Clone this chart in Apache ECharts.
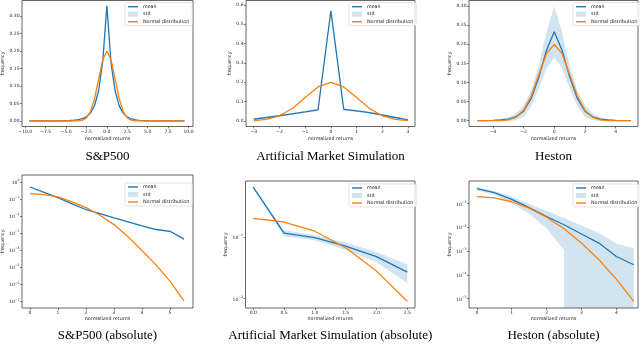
<!DOCTYPE html>
<html>
<head>
<meta charset="utf-8">
<script src="https://cdn.jsdelivr.net/npm/echarts@6/dist/echarts.min.js"></script>
<style>
  html, body { margin: 0; padding: 0; background: #fff; }
  #main { width: 640px; height: 344px; }
</style>
</head>
<body>
<div id="main"></div>
<script>
// ---- data ----
var titles = ['S&P500', 'Artificial Market Simulation', 'Heston',
  'S&P500 (absolute)', 'Artificial Market Simulation (absolute)', 'Heston (absolute)'];

// S&P500
var spX = [-9.5, -9, -8.5, -8, -7.5, -7, -6.5, -6, -5.5, -5, -4.5, -4, -3.5, -3, -2.5, -2, -1.5, -1, -0.5, 0,
  0.5, 1, 1.5, 2, 2.5, 3, 3.5, 4, 4.5, 5, 5.5, 6, 6.5, 7, 7.5, 8, 8.5, 9, 9.5];
var spMean = [0.0001, 0.0001, 0.0001, 0.0001, 0.0002, 0.0002, 0.0003, 0.0004, 0.0006, 0.0009, 0.0014, 0.0022, 0.0036, 0.0065, 0.012, 0.023, 0.045, 0.088, 0.172, 0.33,
  0.168, 0.087, 0.044, 0.022, 0.011, 0.006, 0.0033, 0.002, 0.0012, 0.0008, 0.0005, 0.0003, 0.0002, 0.0002, 0.0001, 0.0001, 0.0001, 0.0001, 0.0001];
var spStd = [0, 0, 0, 0, 0, 0, 0.0001, 0.0001, 0.0001, 0.0002, 0.0002, 0.0003, 0.0004, 0.0006, 0.001, 0.0015, 0.002, 0.003, 0.004, 0.005,
  0.004, 0.003, 0.002, 0.0015, 0.001, 0.0006, 0.0004, 0.0003, 0.0002, 0.0002, 0.0001, 0.0001, 0.0001, 0, 0, 0, 0, 0, 0];
var spNormal = [0, 0, 0, 0, 0, 0, 0, 0, 0, 0, 0, 0.0001, 0.0004, 0.0022, 0.0088, 0.027, 0.0648, 0.121, 0.176, 0.1995,
  0.176, 0.121, 0.0648, 0.027, 0.0088, 0.0022, 0.0004, 0.0001, 0, 0, 0, 0, 0, 0, 0, 0, 0, 0, 0];
var spXTicks = [-10, -7.5, -5, -2.5, 0, 2.5, 5, 7.5, 10];
var spYTicks = [0, 0.05, 0.1, 0.15, 0.2, 0.25, 0.3];

// Artificial market simulation
var amX = [-3, -2.5, -2, -1.5, -1, -0.5, 0, 0.5, 1, 1.5, 2, 2.5, 3];
var amMean = [0.009, 0.018, 0.027, 0.037, 0.047, 0.058, 0.57, 0.06, 0.052, 0.043, 0.031, 0.018, 0.006];
var amStd = [0.002, 0.003, 0.003, 0.004, 0.005, 0.006, 0.008, 0.006, 0.005, 0.004, 0.003, 0.003, 0.002];
var amNormal = [0.0022, 0.0088, 0.027, 0.0648, 0.121, 0.176, 0.1995, 0.176, 0.121, 0.0648, 0.027, 0.0088, 0.0022];
var amXTicks = [-3, -2, -1, 0, 1, 2, 3];
var amYTicks = [0, 0.1, 0.2, 0.3, 0.4, 0.5, 0.6];

// Heston
var hX = [-5, -4.5, -4, -3.5, -3, -2.5, -2, -1.5, -1, -0.5, 0, 0.5, 1, 1.5, 2, 2.5, 3, 3.5, 4, 4.5, 5];
var hMean = [0.0001, 0.0003, 0.0008, 0.0018, 0.0042, 0.01, 0.025, 0.058, 0.115, 0.185, 0.233,
  0.185, 0.115, 0.058, 0.025, 0.01, 0.0042, 0.0018, 0.0008, 0.0003, 0.0001];
var hStd = [0.0003, 0.0006, 0.0012, 0.0027, 0.005, 0.009, 0.015, 0.021, 0.03, 0.047, 0.0675,
  0.047, 0.03, 0.021, 0.015, 0.009, 0.005, 0.0027, 0.0012, 0.0006, 0.0003];
var hNormal = [0, 0, 0.0001, 0.0004, 0.0022, 0.0088, 0.027, 0.0648, 0.121, 0.176, 0.1995,
  0.176, 0.121, 0.0648, 0.027, 0.0088, 0.0022, 0.0004, 0.0001, 0, 0];
var hXTicks = [-4, -2, 0, 2, 4];
var hYTicks = [0, 0.05, 0.1, 0.15, 0.2, 0.25, 0.3];

// S&P500 (absolute)
var spaX = [0, 0.5, 1, 1.5, 2, 2.5, 3, 3.5, 4, 4.5, 5, 5.5];
var spaMean = [0.51, 0.25, 0.122, 0.052, 0.0245, 0.014, 0.0079, 0.0046, 0.0027, 0.00165, 0.0013, 0.00045];
var spaStd = [0.01, 0.005, 0.003, 0.0015, 0.0008, 0.0005, 0.0003, 0.0002, 0.0001, 0.0001, 0.0001, 0.00005];
var spaNormal = [0.21, 0.18, 0.133, 0.068, 0.032, 0.0112, 0.0032, 0.00063, 0.000093, 0.000014, 0.0000015, 0.00000011];
var spaXTicks = [0, 1, 2, 3, 4, 5];
var spaYTicks = [1e-7, 1e-6, 1e-5, 1e-4, 1e-3, 1e-2, 1e-1, 1];

// Artificial market simulation (absolute)
var amaX = [0, 0.5, 1, 1.5, 2, 2.5];
var amaMean = [0.645, 0.116, 0.0975, 0.0714, 0.048, 0.027];
var amaStd = [0.02, 0.013, 0.009, 0.01, 0.009, 0.009];
var amaNormal = [0.2, 0.175, 0.124, 0.067, 0.028, 0.0091];
var amaXTicks = [0, 0.5, 1, 1.5, 2, 2.5];
var amaYTicks = [0.01, 0.1];

// Heston (absolute)
var haX = [0, 0.5, 1, 1.5, 2, 2.5, 3, 3.5, 4, 4.5];
var haMean = [0.43, 0.29, 0.152, 0.068, 0.029, 0.013, 0.0053, 0.0022, 0.0006, 0.00027];
var haStd = [0.07, 0.05, 0.05, 0.03, 0.02, 0.0119, 0.0069, 0.0036, 0.0015, 0.00103];
var haNormal = [0.2, 0.176, 0.121, 0.065, 0.027, 0.0088, 0.0022, 0.00044, 0.000067, 0.0000077];
var haXTicks = [0, 1, 2, 3, 4];
var haYTicks = [1e-5, 1e-4, 1e-3, 1e-2, 1e-1];

// ---- layout ----
var blue = '#1f77b4', orange = '#ff7f0e', band = 'rgba(31,119,180,0.2)';
var font = 'DejaVu Sans';

var panels = [
  { x: spX, mean: spMean, std: spStd, normal: spNormal, xt: spXTicks, yt: spYTicks, xd: 1, yd: 2, log: false,
    box: [22, 0.5, 171, 126], xr: [-10.4, 10.55], yr: [-0.0158, 0.345], yGap: 14, lg: [125, 2.7], ty: 156.5 },
  { x: amX, mean: amMean, std: amStd, normal: amNormal, xt: amXTicks, yt: amYTicks, xd: 0, yd: 1, log: false,
    box: [246, 0.5, 169, 126], xr: [-3.3, 3.27], yr: [-0.0285, 0.623], yGap: 11, lg: [349, 2.7], ty: 156.5 },
  { x: hX, mean: hMean, std: hStd, normal: hNormal, xt: hXTicks, yt: hYTicks, xd: 0, yd: 2, log: false,
    box: [469, 0.5, 169, 126], xr: [-5.55, 5.45], yr: [-0.0152, 0.3146], yGap: 14, lg: [573, 2.7], ty: 156.5 },
  { x: spaX, mean: spaMean, std: spaStd, normal: spaNormal, xt: spaXTicks, yt: spaYTicks, xd: 0, log: true,
    box: [22, 175, 171, 133], xr: [-0.286, 5.82], yr: [Math.pow(10, -7.38), Math.pow(10, 0.41)], yGap: 14, lg: [125, 183], ty: 336 },
  { x: amaX, mean: amaMean, std: amaStd, normal: amaNormal, xt: amaXTicks, yt: amaYTicks, xd: 1, log: true,
    box: [245.5, 181, 169.5, 127], xr: [-0.125, 2.625], yr: [Math.pow(10, -2.151), Math.pow(10, -0.092)], yGap: 14, lg: [349, 184], ty: 336 },
  { x: haX, mean: haMean, std: haStd, normal: haNormal, xt: haXTicks, yt: haYTicks, xd: 0, log: true,
    box: [469, 181, 169, 127], xr: [-0.225, 4.62], yr: [Math.pow(10, -5.39), Math.pow(10, -0.044)], yGap: 14, lg: [573, 184], ty: 336 }
];

function fmtLin(d) {
  return function (v) {
    return (v < 0 ? '\u2212' : '') + Math.abs(v).toFixed(d);
  };
}
function fmtLog(v) {
  var e = Math.round(Math.log10(v));
  return '{b|10}{s|' + (e < 0 ? '\u2212' + (-e) : e) + '}';
}

// std band polygon drawn through the axes
function bandItem(p) {
  return function (params, api) {
    var cs = params.coordSys, bottom = cs.y + cs.height, pts = [], i;
    for (i = 0; i < p.x.length; i++) pts.push(api.coord([p.x[i], p.mean[i] + p.std[i]]));
    for (i = p.x.length - 1; i >= 0; i--) {
      var lo = p.mean[i] - p.std[i];
      if (p.log && lo <= 0) {
        pts.push([api.coord([p.x[i], p.mean[i]])[0], bottom]);
        if (i > 0 && p.mean[i - 1] - p.std[i - 1] > 0) pts.push([api.coord([p.x[i - 1], p.mean[i - 1]])[0], bottom]);
      } else {
        pts.push(api.coord([p.x[i], lo]));
      }
    }
    return { type: 'polygon', shape: { points: pts }, style: { fill: band } };
  };
}

var lineIcon = 'path://M0,0L20,0L20,2.8L0,2.8Z';
var option = { animation: false, grid: [], xAxis: [], yAxis: [], series: [], legend: [], graphic: [] };

panels.forEach(function (p, k) {
  var bottomRow = k >= 3;
  option.grid.push({
    left: p.box[0], top: p.box[1], width: p.box[2], height: p.box[3],
    show: true, borderColor: '#404040', borderWidth: 0.8, containLabel: false, outerBoundsMode: 'none'
  });
  option.xAxis.push({
    type: 'value', gridIndex: k, min: p.xr[0], max: p.xr[1], position: 'bottom',
    axisLine: { show: false, onZero: false }, splitLine: { show: false },
    axisTick: { show: true, length: 2, customValues: p.xt, lineStyle: { color: '#333', width: 0.6 } },
    axisLabel: { customValues: p.xt, formatter: fmtLin(p.xd), fontSize: 4.5, fontFamily: font, color: '#222', margin: bottomRow ? 2.4 : 2.8 },
    name: 'normalized returns', nameLocation: 'middle', nameGap: bottomRow ? 8.3 : 9.4,
    nameTextStyle: { fontSize: 4.8, fontFamily: font, color: '#222' }
  });
  var yLabel = { customValues: p.yt, fontSize: 4.5, fontFamily: font, color: '#222', margin: 2.5 };
  if (p.log) {
    yLabel.formatter = fmtLog;
    yLabel.rich = {
      b: { fontSize: 4.5, fontFamily: font, color: '#222', lineHeight: 6.5, verticalAlign: 'bottom' },
      s: { fontSize: 3.2, fontFamily: font, color: '#222', lineHeight: 3.4, verticalAlign: 'top' }
    };
  } else {
    yLabel.formatter = fmtLin(p.yd);
  }
  option.yAxis.push({
    type: p.log ? 'log' : 'value', gridIndex: k, min: p.yr[0], max: p.yr[1], position: 'left',
    axisLine: { show: false, onZero: false }, splitLine: { show: false }, minorTick: { show: false },
    axisTick: { show: true, length: 2, customValues: p.yt, lineStyle: { color: '#333', width: 0.6 } },
    axisLabel: yLabel,
    name: 'frequency', nameLocation: 'middle', nameGap: p.yGap,
    nameTextStyle: { fontSize: 4.8, fontFamily: font, color: '#222' }
  });
  option.series.push({
    name: 'mean', type: 'line', xAxisIndex: k, yAxisIndex: k, z: 2,
    showSymbol: false, symbol: 'none', color: blue, lineStyle: { width: 1.3, color: blue },
    data: p.x.map(function (v, i) { return [v, p.mean[i]]; })
  });
  option.series.push({
    name: 'std', type: 'custom', xAxisIndex: k, yAxisIndex: k, z: 3, silent: true,
    itemStyle: { color: band },
    renderItem: bandItem(p),
    data: [[p.x[0], p.mean[0]]]
  });
  option.series.push({
    name: 'Normal distribution', type: 'line', xAxisIndex: k, yAxisIndex: k, z: 4,
    showSymbol: false, symbol: 'none', color: orange, lineStyle: { width: 1.3, color: orange },
    data: p.x.map(function (v, i) { return [v, p.normal[i]]; })
  });
  option.legend.push({
    left: p.lg[0], top: p.lg[1], orient: 'vertical', selectedMode: false,
    itemWidth: 10, itemHeight: 5, itemGap: 2.5, padding: [1.5, 3, 1.5, 3],
    backgroundColor: 'rgba(255,255,255,0.8)', borderColor: '#d0d0d0', borderWidth: 0.6, borderRadius: 1.5,
    itemStyle: { borderWidth: 0 },
    textStyle: { fontSize: 4.8, fontFamily: font, color: '#222', lineHeight: 5 },
    data: [{ name: 'mean', icon: lineIcon }, { name: 'std', icon: 'rect' }, { name: 'Normal distribution', icon: lineIcon }]
  });
  option.graphic.push({
    type: 'text', x: p.box[0] + p.box[2] / 2, y: p.ty,
    style: { text: titles[k], fill: '#000', font: '13px "Liberation Serif"', align: 'center', verticalAlign: 'middle' }
  });
});

var chart = echarts.init(document.getElementById('main'));
chart.setOption(option);
</script>
</body>
</html>
